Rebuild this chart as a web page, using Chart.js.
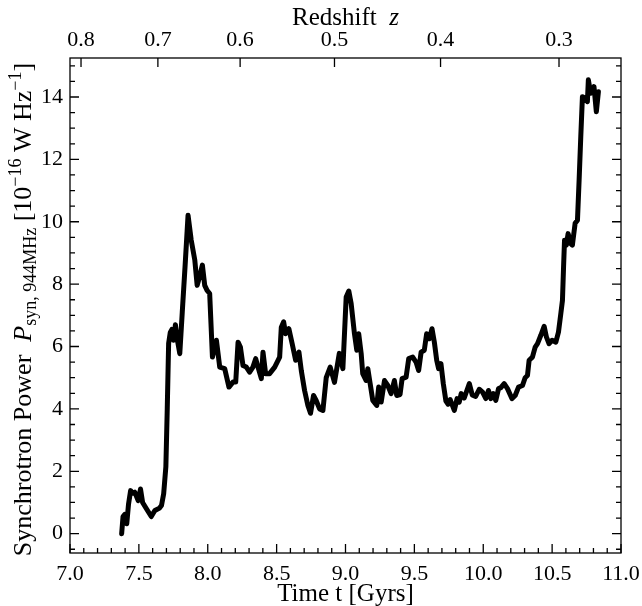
<!DOCTYPE html>
<html>
<head>
<meta charset="utf-8">
<script src="https://cdn.jsdelivr.net/npm/chart.js@4.4.0/dist/chart.umd.min.js"></script>
<style>
  html, body { margin: 0; padding: 0; background: #fff; }
</style>
</head>
<body>
<canvas id="chart" width="642" height="606"></canvas>
<script>
// cosmic time (Gyr) and synchrotron power (1e-16 W/Hz)
const timeGyr = [
  7.375, 7.385, 7.398, 7.412, 7.425, 7.440, 7.455, 7.470, 7.495, 7.512,
  7.527, 7.556, 7.590, 7.616, 7.650, 7.664, 7.680, 7.696, 7.706, 7.716,
  7.728, 7.740, 7.752, 7.765, 7.780, 7.797, 7.815, 7.835, 7.857, 7.880,
  7.906, 7.923, 7.940, 7.961, 7.978, 7.995, 8.014, 8.034, 8.063, 8.087,
  8.123, 8.154, 8.183, 8.203, 8.220, 8.237, 8.256, 8.280, 8.304, 8.328,
  8.348, 8.365, 8.389, 8.401, 8.420, 8.449, 8.486, 8.522, 8.534, 8.551,
  8.565, 8.589, 8.613, 8.638, 8.662, 8.679, 8.703, 8.727, 8.746, 8.768,
  8.787, 8.812, 8.836, 8.860, 8.889, 8.920, 8.955, 8.981, 9.005, 9.024,
  9.041, 9.065, 9.082, 9.096, 9.114, 9.125, 9.150, 9.162, 9.179, 9.198,
  9.227, 9.241, 9.259, 9.283, 9.307, 9.331, 9.355, 9.372, 9.396, 9.411,
  9.440, 9.459, 9.488, 9.512, 9.531, 9.549, 9.572, 9.589, 9.609, 9.628,
  9.645, 9.662, 9.676, 9.693, 9.710, 9.729, 9.745, 9.760, 9.790, 9.810,
  9.826, 9.840, 9.862, 9.899, 9.920, 9.945, 9.971, 9.995, 10.019, 10.038,
  10.055, 10.072, 10.091, 10.111, 10.128, 10.152, 10.176, 10.208, 10.232, 10.256,
  10.285, 10.304, 10.321, 10.333, 10.357, 10.377, 10.394, 10.418, 10.442, 10.459,
  10.478, 10.500, 10.527, 10.546, 10.563, 10.575, 10.583, 10.590, 10.603, 10.616,
  10.635, 10.647, 10.667, 10.684, 10.696, 10.708, 10.720, 10.740, 10.756, 10.763,
  10.780, 10.804, 10.821, 10.836
];
const powerSyn = [
  0.00, 0.55, 0.62, 0.32, 0.95, 1.38, 1.30, 1.33, 1.06, 1.43,
  1.00, 0.79, 0.55, 0.74, 0.82, 0.90, 1.28, 2.15, 4.00, 6.10,
  6.45, 6.55, 6.20, 6.70, 6.20, 5.77, 7.10, 8.55, 10.21, 9.41,
  8.77, 7.96, 8.23, 8.61, 7.96, 7.80, 7.70, 5.66, 6.20, 5.34,
  5.29, 4.70, 4.86, 4.86, 6.14, 5.98, 5.39, 5.34, 5.18, 5.34,
  5.61, 5.34, 4.97, 5.82, 5.13, 5.13, 5.34, 5.66, 6.62, 6.79,
  6.41, 6.57, 6.09, 5.56, 5.82, 5.23, 4.59, 4.11, 3.86, 4.43,
  4.27, 4.00, 3.95, 5.00, 5.34, 4.85, 5.78, 5.29, 7.59, 7.78,
  7.38, 6.41, 5.88, 6.41, 5.77, 5.13, 4.91, 5.29, 4.81, 4.27,
  4.11, 4.70, 4.22, 4.91, 4.75, 4.49, 4.91, 4.43, 4.46, 4.97,
  5.02, 5.61, 5.66, 5.50, 5.23, 5.82, 5.88, 6.41, 6.25, 6.57,
  6.14, 5.56, 5.29, 5.45, 4.81, 4.25, 4.15, 4.30, 3.95, 4.33,
  4.22, 4.49, 4.35, 4.81, 4.45, 4.40, 4.63, 4.54, 4.33, 4.59,
  4.33, 4.49, 4.27, 4.65, 4.68, 4.81, 4.65, 4.33, 4.43, 4.70,
  4.75, 5.00, 5.07, 5.56, 5.66, 5.98, 6.09, 6.36, 6.65, 6.30,
  6.09, 6.20, 6.14, 6.46, 7.05, 7.48, 8.55, 9.41, 9.25, 9.62,
  9.30, 9.25, 9.95, 10.05, 11.34, 12.73, 14.01, 13.96, 13.85, 14.55,
  14.12, 14.33, 13.53, 14.17
];

const xTickValues = [7.0, 7.5, 8.0, 8.5, 9.0, 9.5, 10.0, 10.5, 11.0];
const yTickValues = [0, 2, 4, 6, 8, 10, 12, 14];
const redshiftLabels = ['0.8', '0.7', '0.6', '0.5', '0.4', '0.3'];
const redshiftTimes = [7.08, 7.638, 8.235, 8.92, 9.69, 10.55];

const SERIF = "'Liberation Serif', 'DejaVu Serif', serif";

// inward ticks, box frame and the two axis titles with italics/sub/superscripts
const frameTicks = {
  id: 'frameTicks',
  afterDraw(chart) {
    const { ctx, chartArea: a, scales } = chart;
    const x = scales.x, y = scales.y;
    ctx.save();
    ctx.strokeStyle = '#000';
    ctx.lineWidth = 1.3;
    ctx.beginPath();
    for (let i = 70; i <= 110; i++) {
      const px = x.getPixelForValue(i / 10);
      const len = i % 5 === 0 ? 9 : 5;
      ctx.moveTo(px, a.bottom);
      ctx.lineTo(px, a.bottom - len);
    }
    for (let j = -2; j <= 32; j++) {
      const v = j / 2;
      if (v < y.min || v > y.max) continue;
      const py = y.getPixelForValue(v);
      const len = j % 4 === 0 ? 9 : 5;
      ctx.moveTo(a.left, py);
      ctx.lineTo(a.left + len, py);
      ctx.moveTo(a.right, py);
      ctx.lineTo(a.right - len, py);
    }
    redshiftTimes.forEach(t => {
      const px = x.getPixelForValue(t);
      ctx.moveTo(px, a.top);
      ctx.lineTo(px, a.top + 9);
    });
    ctx.stroke();
    ctx.strokeRect(a.left, a.top, a.right - a.left, a.bottom - a.top);

    ctx.fillStyle = '#000';
    ctx.textBaseline = 'alphabetic';

    // top title: Redshift z
    const t1 = 'Redshift  ';
    ctx.font = `25px ${SERIF}`;
    const w1 = ctx.measureText(t1).width;
    ctx.font = `italic 25px ${SERIF}`;
    const w2 = ctx.measureText('z').width;
    const sx = (a.left + a.right) / 2 - (w1 + w2) / 2;
    ctx.font = `25px ${SERIF}`;
    ctx.fillText(t1, sx, 25);
    ctx.font = `italic 25px ${SERIF}`;
    ctx.fillText('z', sx + w1, 25);

    // left title, rotated
    const parts = [
      { s: 'Synchrotron Power  ', f: `26px ${SERIF}`, dy: 0 },
      { s: 'P', f: `italic 26px ${SERIF}`, dy: 0 },
      { s: 'syn, 944MHz', f: `18px ${SERIF}`, dy: 5 },
      { s: ' [10', f: `26px ${SERIF}`, dy: 0 },
      { s: '\u221216', f: `18px ${SERIF}`, dy: -10 },
      { s: ' W Hz', f: `26px ${SERIF}`, dy: 0 },
      { s: '\u22121', f: `18px ${SERIF}`, dy: -10 },
      { s: ']', f: `26px ${SERIF}`, dy: 0 }
    ];
    let total = 0;
    parts.forEach(p => { ctx.font = p.f; p.w = ctx.measureText(p.s).width; total += p.w; });
    ctx.translate(31, (a.top + a.bottom) / 2 + 4);
    ctx.rotate(-Math.PI / 2);
    let u = -total / 2;
    parts.forEach(p => {
      ctx.font = p.f;
      ctx.fillText(p.s, u, p.dy);
      u += p.w;
    });
    ctx.restore();
  }
};

new Chart(document.getElementById('chart'), {
  type: 'line',
  data: {
    datasets: [{
      data: timeGyr.map((t, i) => ({ x: t, y: powerSyn[i] })),
      borderColor: '#000',
      borderWidth: 5,
      borderJoinStyle: 'round',
      borderCapStyle: 'round',
      pointRadius: 0,
      tension: 0,
      fill: false
    }]
  },
  options: {
    responsive: false,
    animation: false,
    layout: { padding: { left: 41, right: 21, top: 27, bottom: 1 } },
    plugins: { legend: { display: false }, tooltip: { enabled: false } },
    scales: {
      x: {
        type: 'linear',
        position: 'bottom',
        min: 7, max: 11,
        grid: { display: false, drawTicks: false },
        border: { display: false },
        afterBuildTicks: s => { s.ticks = xTickValues.map(v => ({ value: v })); },
        afterFit: s => { s.height = 52; s.paddingLeft = 0; s.paddingRight = 0; },
        ticks: {
          color: '#000', padding: 10, maxRotation: 0, autoSkip: false,
          font: { family: SERIF, size: 22, lineHeight: 1 },
          callback: v => v.toFixed(1)
        },
        title: {
          display: true, text: 'Time t [Gyrs]', color: '#000',
          padding: { top: 0, bottom: 0 },
          font: { family: SERIF, size: 25, lineHeight: 0.84 }
        }
      },
      xTop: {
        type: 'linear',
        position: 'top',
        min: 7, max: 11,
        grid: { display: false, drawTicks: false },
        border: { display: false },
        afterBuildTicks: s => { s.ticks = redshiftTimes.map(v => ({ value: v })); },
        afterFit: s => { s.height = 31; s.paddingLeft = 0; s.paddingRight = 0; },
        ticks: {
          color: '#000', padding: 5, maxRotation: 0, autoSkip: false,
          font: { family: SERIF, size: 22, lineHeight: 1.2 },
          callback: (v, i) => redshiftLabels[i]
        }
      },
      y: {
        type: 'linear',
        min: -0.62, max: 15.25,
        grid: { display: false, drawTicks: false },
        border: { display: false },
        afterBuildTicks: s => { s.ticks = yTickValues.map(v => ({ value: v })); },
        afterFit: s => { s.width = 29; s.paddingTop = 0; s.paddingBottom = 0; },
        ticks: {
          color: '#000', padding: 7,
          font: { family: SERIF, size: 22, lineHeight: 1 }
        }
      }
    }
  },
  plugins: [frameTicks]
});
</script>
</body>
</html>
